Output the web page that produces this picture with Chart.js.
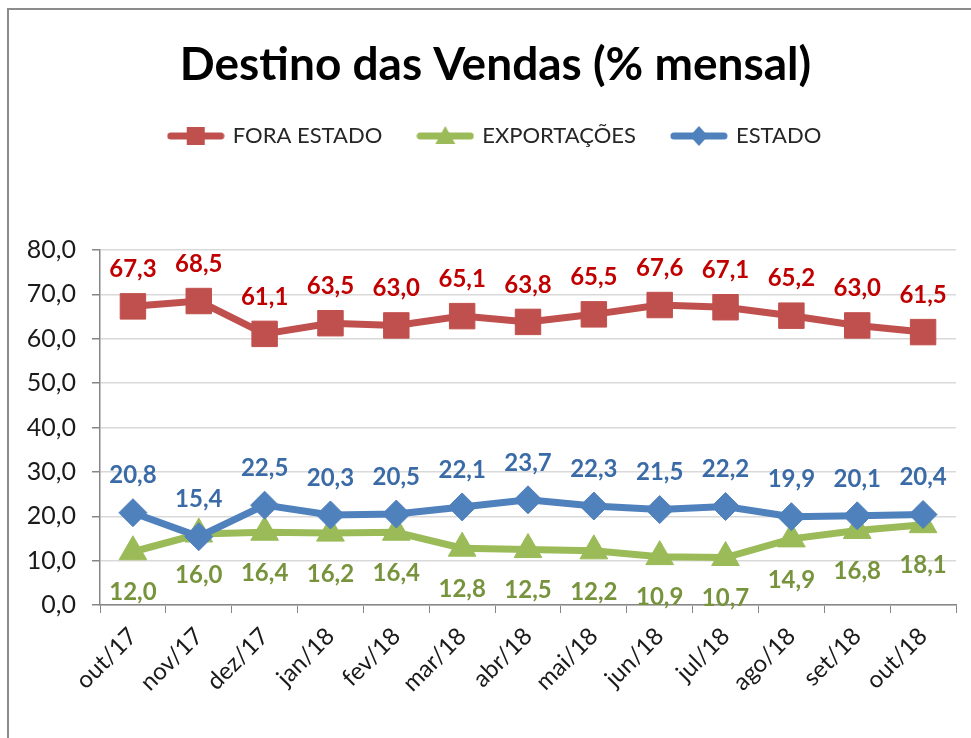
<!DOCTYPE html>
<html><head><meta charset="utf-8">
<script src="https://cdn.jsdelivr.net/npm/chart.js@4"></script>
<style>
html,body{margin:0;padding:0;background:#fff;overflow:hidden;width:971px;height:738px;}
#wrap{position:relative;width:971px;height:738px;overflow:hidden;}
#frame{position:absolute;left:7px;top:8px;width:1000px;height:800px;border-top:2px solid #8c8c8c;border-left:2px solid #8c8c8c;}
canvas{position:absolute;left:0;top:0;}
</style></head><body>
<div id="wrap"><div id="frame"></div><canvas id="c"></canvas></div>
<script>
const categories = ['out/17','nov/17','dez/17','jan/18','fev/18','mar/18','abr/18','mai/18','jun/18','jul/18','ago/18','set/18','out/18'];
const foraEstado = [67.3, 68.5, 61.1, 63.5, 63.0, 65.1, 63.8, 65.5, 67.6, 67.1, 65.2, 63.0, 61.5];
const exportacoes = [12.0, 16.0, 16.4, 16.2, 16.4, 12.8, 12.5, 12.2, 10.9, 10.7, 14.9, 16.8, 18.1];
const estado = [20.8, 15.4, 22.5, 20.3, 20.5, 22.1, 23.7, 22.3, 21.5, 22.2, 19.9, 20.1, 20.4];
const seriesNames = ['FORA ESTADO', 'EXPORTAÇÕES', 'ESTADO'];
const titleText = 'Destino das Vendas (% mensal)';

const FONT = 'Lato, "Open Sans", sans-serif';
const cRed = '#C0504D', cGreen = '#9BBB59', cBlue = '#4F81BD';
const lRed = '#C00000', lGreen = '#77933C', lBlue = '#3A6BA6';

const W = 991, H = 738;
const cv = document.getElementById('c');
cv.width = W; cv.height = H; cv.style.width = W + 'px'; cv.style.height = H + 'px';

function fmt(v){ return v.toFixed(1).replace('.', ','); }

function legendIcon(color, style){
  const c = document.createElement('canvas'); c.width = 58; c.height = 22;
  const g = c.getContext('2d');
  g.strokeStyle = color; g.lineWidth = 7; g.lineCap = 'round';
  g.beginPath(); g.moveTo(4, 11); g.lineTo(54, 11); g.stroke();
  g.fillStyle = color; g.beginPath();
  if (style === 'rect') { g.rect(20, 2, 18, 18); }
  else if (style === 'triangle') { g.moveTo(29, 1); g.lineTo(39, 19); g.lineTo(19, 19); g.closePath(); }
  else { g.moveTo(29, 1); g.lineTo(38, 11); g.lineTo(29, 21); g.lineTo(20, 11); g.closePath(); }
  g.fill();
  return c;
}
const icons = [legendIcon(cRed,'rect'), legendIcon(cGreen,'triangle'), legendIcon(cBlue,'diamond')];

const labelColors = [lRed, lGreen, lBlue];
const labelOffsets = [-37, 41, -37];

const dataLabels = {
  id: 'dataLabels',
  afterDatasetsDraw(chart){
    const ctx = chart.ctx;
    ctx.save();
    ctx.font = 'bold 24px ' + FONT;
    ctx.textAlign = 'center';
    ctx.textBaseline = 'middle';
    chart.data.datasets.forEach((ds, i) => {
      const meta = chart.getDatasetMeta(i);
      ctx.fillStyle = labelColors[i];
      meta.data.forEach((pt, j) => {
        ctx.fillText(fmt(ds.data[j]), pt.x, pt.y + labelOffsets[i]);
      });
    });
    ctx.restore();
  }
};

const chart = new Chart(cv, {
  type: 'line',
  data: {
    labels: categories,
    datasets: [
      { label: seriesNames[0], data: foraEstado, borderColor: cRed, backgroundColor: cRed, borderWidth: 7,
        pointStyle: 'rect', pointRadius: 18, pointBorderWidth: 1, pointBackgroundColor: cRed, pointBorderColor: cRed, order: 2, tension: 0 },
      { label: seriesNames[1], data: exportacoes, borderColor: cGreen, backgroundColor: cGreen, borderWidth: 7,
        pointStyle: 'triangle', pointRadius: 16, pointBorderWidth: 1, pointBackgroundColor: cGreen, pointBorderColor: cGreen, order: 1, tension: 0 },
      { label: seriesNames[2], data: estado, borderColor: cBlue, backgroundColor: cBlue, borderWidth: 7,
        pointStyle: 'rectRot', pointRadius: 14, pointBorderWidth: 1, pointBackgroundColor: cBlue, pointBorderColor: cBlue, order: 0, tension: 0 }
    ]
  },
  options: {
    responsive: false,
    animation: false,
    events: [],
    layout: { padding: { left: 0, right: 0, top: 0, bottom: 0 } },
    plugins: {
      tooltip: { enabled: false },
      title: {
        display: true, text: titleText, color: '#000',
        font: { family: FONT, size: 46, weight: 'bold', lineHeight: 1.0 },
        padding: { top: 42, bottom: 0 }
      },
      legend: {
        display: true, position: 'top',
        labels: {
          usePointStyle: true, pointStyleWidth: 52, padding: 37,
          color: '#262626', font: { family: FONT, size: 22 },
          generateLabels: (ch) => ch.data.datasets.map((ds, i) => ({
            text: ds.label, pointStyle: icons[i], fillStyle: ds.borderColor, strokeStyle: ds.borderColor,
            lineWidth: 0, hidden: false, datasetIndex: i, fontColor: '#262626'
          }))
        }
      },
      subtitle: {
        display: true, text: '', weight: 500, position: 'top',
        font: { size: 1, lineHeight: 1 }, padding: { top: 90, bottom: 0 }
      }
    },
    scales: {
      x: {
        offset: true,
        grid: { display: true, offset: true, drawOnChartArea: false, drawTicks: true, tickLength: 8, tickColor: '#868686' },
        border: { display: true, color: '#868686', width: 1.5 },
        ticks: { color: '#1a1a1a', font: { family: FONT, size: 24 }, maxRotation: 45, minRotation: 45, autoSkip: false, padding: 9 },
        afterFit: (s) => { s.height = H - 605; }
      },
      y: {
        min: 0, max: 80,
        grid: { color: '#D9D9D9', lineWidth: 1.5, tickLength: 8, tickColor: '#868686', drawTicks: true },
        border: { display: true, color: '#868686', width: 1.5 },
        ticks: { stepSize: 10, color: '#1a1a1a', font: { family: FONT, size: 25 }, padding: 16,
          callback: (v) => fmt(v) },
        afterFit: (s) => { s.width = 100; }
      },
      yRight: {
        position: 'right', display: true, min: 0, max: 80,
        grid: { display: false, drawOnChartArea: false, drawTicks: false },
        border: { display: false },
        ticks: { display: false },
        afterFit: (s) => { s.width = W - 956; }
      }
    }
  },
  plugins: [dataLabels]
});

const d = 250 - chart.chartArea.top;
if (Math.abs(d) > 0.25) {
  chart.options.plugins.subtitle.padding.top += d;
  chart.update('none');
}
</script>
</body></html>
